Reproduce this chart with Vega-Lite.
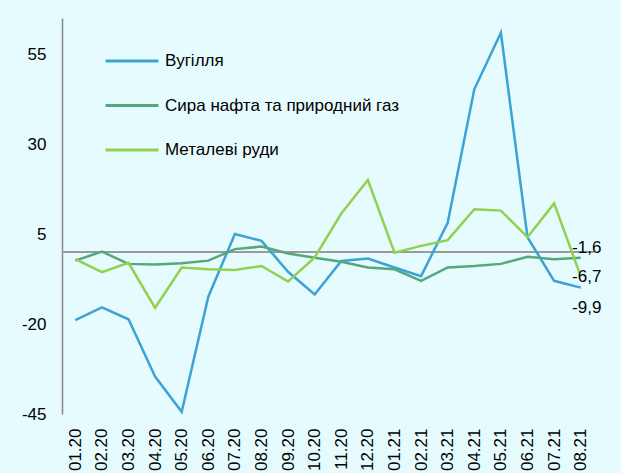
{
  "$schema": "https://vega.github.io/schema/vega-lite/v6.json",
  "width": 532,
  "height": 396,
  "autosize": {"type": "none"},
  "padding": {"left": 62, "top": 18, "right": 27, "bottom": 59},
  "background": "#E6FBFE",
  "config": {"view": {"stroke": null}, "font": "Liberation Sans"},
  "data": {"values": [
    {"month": "01.20", "series": "Вугілля", "value": -18.9},
    {"month": "02.20", "series": "Вугілля", "value": -15.4},
    {"month": "03.20", "series": "Вугілля", "value": -18.7},
    {"month": "04.20", "series": "Вугілля", "value": -34.6},
    {"month": "05.20", "series": "Вугілля", "value": -44.4},
    {"month": "06.20", "series": "Вугілля", "value": -12.4},
    {"month": "07.20", "series": "Вугілля", "value": 5.0},
    {"month": "08.20", "series": "Вугілля", "value": 3.1},
    {"month": "09.20", "series": "Вугілля", "value": -5.5},
    {"month": "10.20", "series": "Вугілля", "value": -11.8},
    {"month": "11.20", "series": "Вугілля", "value": -2.5},
    {"month": "12.20", "series": "Вугілля", "value": -1.8},
    {"month": "01.21", "series": "Вугілля", "value": -4.3},
    {"month": "02.21", "series": "Вугілля", "value": -6.7},
    {"month": "03.21", "series": "Вугілля", "value": 8.1},
    {"month": "04.21", "series": "Вугілля", "value": 45.2},
    {"month": "05.21", "series": "Вугілля", "value": 60.9},
    {"month": "06.21", "series": "Вугілля", "value": 4.1},
    {"month": "07.21", "series": "Вугілля", "value": -8.0},
    {"month": "08.21", "series": "Вугілля", "value": -9.9, "label": "-9,9"},
    {"month": "01.20", "series": "Сира нафта та природний газ", "value": -2.4},
    {"month": "02.20", "series": "Сира нафта та природний газ", "value": 0.1},
    {"month": "03.20", "series": "Сира нафта та природний газ", "value": -3.3},
    {"month": "04.20", "series": "Сира нафта та природний газ", "value": -3.5},
    {"month": "05.20", "series": "Сира нафта та природний газ", "value": -3.1},
    {"month": "06.20", "series": "Сира нафта та природний газ", "value": -2.4},
    {"month": "07.20", "series": "Сира нафта та природний газ", "value": 0.8},
    {"month": "08.20", "series": "Сира нафта та природний газ", "value": 1.5},
    {"month": "09.20", "series": "Сира нафта та природний газ", "value": -0.4},
    {"month": "10.20", "series": "Сира нафта та природний газ", "value": -1.6},
    {"month": "11.20", "series": "Сира нафта та природний газ", "value": -2.7},
    {"month": "12.20", "series": "Сира нафта та природний газ", "value": -4.3},
    {"month": "01.21", "series": "Сира нафта та природний газ", "value": -4.8},
    {"month": "02.21", "series": "Сира нафта та природний газ", "value": -8.0},
    {"month": "03.21", "series": "Сира нафта та природний газ", "value": -4.3},
    {"month": "04.21", "series": "Сира нафта та природний газ", "value": -3.9},
    {"month": "05.21", "series": "Сира нафта та природний газ", "value": -3.3},
    {"month": "06.21", "series": "Сира нафта та природний газ", "value": -1.3},
    {"month": "07.21", "series": "Сира нафта та природний газ", "value": -2.0},
    {"month": "08.21", "series": "Сира нафта та природний газ", "value": -1.6, "label": "-1,6"},
    {"month": "01.20", "series": "Металеві руди", "value": -2.0},
    {"month": "02.20", "series": "Металеві руди", "value": -5.6},
    {"month": "03.20", "series": "Металеві руди", "value": -3.0},
    {"month": "04.20", "series": "Металеві руди", "value": -15.5},
    {"month": "05.20", "series": "Металеві руди", "value": -4.3},
    {"month": "06.20", "series": "Металеві руди", "value": -4.8},
    {"month": "07.20", "series": "Металеві руди", "value": -5.0},
    {"month": "08.20", "series": "Металеві руди", "value": -3.9},
    {"month": "09.20", "series": "Металеві руди", "value": -8.2},
    {"month": "10.20", "series": "Металеві руди", "value": -1.5},
    {"month": "11.20", "series": "Металеві руди", "value": 10.7},
    {"month": "12.20", "series": "Металеві руди", "value": 20.0},
    {"month": "01.21", "series": "Металеві руди", "value": -0.2},
    {"month": "02.21", "series": "Металеві руди", "value": 1.7},
    {"month": "03.21", "series": "Металеві руди", "value": 3.3},
    {"month": "04.21", "series": "Металеві руди", "value": 11.9},
    {"month": "05.21", "series": "Металеві руди", "value": 11.5},
    {"month": "06.21", "series": "Металеві руди", "value": 4.1},
    {"month": "07.21", "series": "Металеві руди", "value": 13.5},
    {"month": "08.21", "series": "Металеві руди", "value": -6.7, "label": "-6,7"}
  ]},
  "encoding": {
    "x": {
      "field": "month", "type": "ordinal", "sort": null,
      "axis": {"title": null, "labelAngle": -90, "labelAlign": "right", "labelBaseline": "middle", "domain": false, "ticks": false, "labelFontSize": 17, "labelColor": "#000000", "labelPadding": 14}
    },
    "y": {
      "field": "value", "type": "quantitative",
      "scale": {"domain": [-45, 65], "nice": false, "zero": false},
      "axis": {"title": null, "values": [-45, -20, 5, 30, 55], "labelExpr": "toString(datum.value)", "grid": false, "ticks": false, "domainColor": "#888888", "domainWidth": 1.5, "labelFontSize": 17, "labelColor": "#000000", "labelPadding": 16}
    }
  },
  "layer": [
    {
      "mark": {"type": "rule", "color": "#9a9a9a", "strokeWidth": 1.5},
      "encoding": {"x": null, "y": {"datum": 0, "type": "quantitative"}}
    },
    {
      "mark": {"type": "line", "strokeWidth": 2.5},
      "encoding": {
        "color": {
          "field": "series", "type": "nominal",
          "scale": {"domain": ["Вугілля", "Сира нафта та природний газ", "Металеві руди"], "range": ["#3BA3D6", "#56A77C", "#92D050"]},
          "legend": {"title": null, "orient": "none", "legendX": 42, "legendY": 15, "symbolType": "stroke", "symbolSize": 2809, "symbolStrokeWidth": 3, "labelFontSize": 17, "labelColor": "#000000", "labelOffset": 5, "rowPadding": 8.5, "labelLimit": 400}
        }
      }
    },
    {
      "transform": [{"filter": "datum.label == '-1,6'"}],
      "mark": {"type": "text", "align": "center", "baseline": "middle", "dx": 6, "dy": -10, "fontSize": 17, "color": "#000000"},
      "encoding": {"text": {"field": "label"}}
    },
    {
      "transform": [{"filter": "datum.label == '-6,7'"}],
      "mark": {"type": "text", "align": "center", "baseline": "middle", "dx": 6, "dy": 1, "fontSize": 17, "color": "#000000"},
      "encoding": {"text": {"field": "label"}}
    },
    {
      "transform": [{"filter": "datum.label == '-9,9'"}],
      "mark": {"type": "text", "align": "center", "baseline": "middle", "dx": 6, "dy": 20, "fontSize": 17, "color": "#000000"},
      "encoding": {"text": {"field": "label"}}
    }
  ]
}
